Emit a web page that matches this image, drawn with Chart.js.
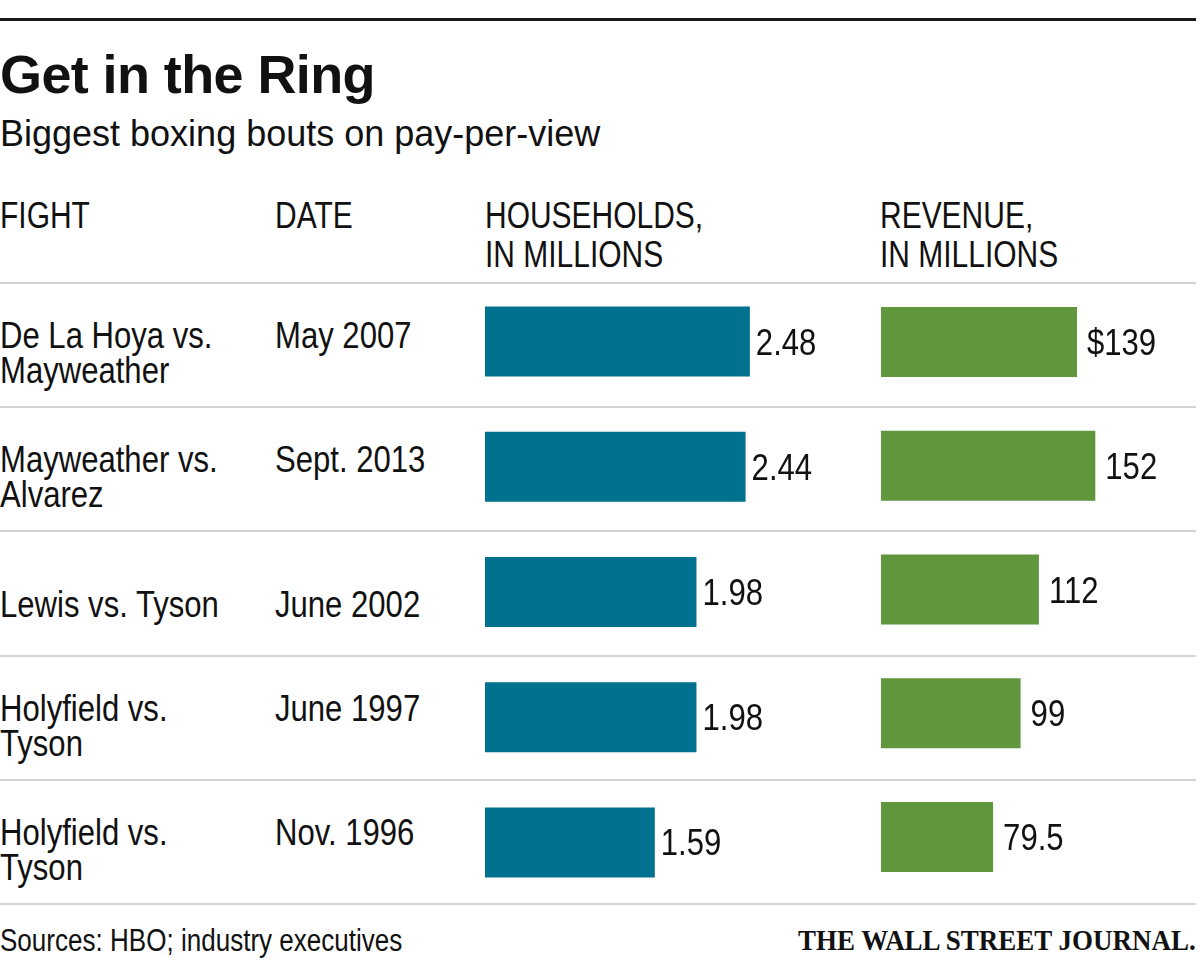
<!DOCTYPE html>
<html>
<head>
<meta charset="utf-8">
<script src="https://cdn.jsdelivr.net/npm/chart.js@4/dist/chart.umd.min.js"></script>
<style>
  html, body { margin: 0; padding: 0; background: #fff; }
  body { width: 1200px; height: 960px; position: relative; overflow: hidden; color: #111;
         font-family: "Liberation Sans", Arial, sans-serif; }
  .abs { position: absolute; white-space: nowrap; }
  .rule { position: absolute; left: 0; width: 1196px; }
  #title { left: 0; top: 47px; font-weight: bold; font-size: 54px; line-height: 54px; letter-spacing: -0.6px; }
  #subtitle { left: 0; top: 116px; font-size: 36px; line-height: 36px; }
  .hdr { font-size: 37px; line-height: 39px; top: 196px; transform: scaleX(0.81); transform-origin: left top; }
  .cell { font-size: 37px; line-height: 35px; transform: scaleX(0.84); transform-origin: left top; }
  #source { left: 0; top: 925px; font-size: 31px; line-height: 31px; transform: scaleX(0.84); transform-origin: left top; }
  #logo { right: 4px; top: 926px; font-family: "Liberation Serif", "Times New Roman", serif; font-weight: bold; font-size: 29px; line-height: 29px; transform: scaleX(0.93); transform-origin: right center; }
  canvas { position: absolute; }
</style>
</head>
<body>
<div class="rule" style="top:18px;height:3px;background:#1a1a1a;"></div>
<div id="title" class="abs">Get in the Ring</div>
<div id="subtitle" class="abs">Biggest boxing bouts on pay-per-view</div>
<div id="hdrs"></div>
<div id="rows"></div>
<canvas id="hh" width="390" height="626" style="left:485px;top:279px;width:390px;height:626px;"></canvas>
<canvas id="rev" width="315" height="619" style="left:881px;top:280px;width:315px;height:619px;"></canvas>
<div id="source" class="abs">Sources: HBO; industry executives</div>
<div id="logo" class="abs">THE WALL STREET JOURNAL.</div>
<script>
// ---- data ----
const fights = [["De La Hoya vs.", "Mayweather"], ["Mayweather vs.", "Alvarez"], ["Lewis vs. Tyson"], ["Holyfield vs.", "Tyson"], ["Holyfield vs.", "Tyson"]];
const dates = ["May 2007", "Sept. 2013", "June 2002", "June 1997", "Nov. 1996"];
const households = [2.48, 2.44, 1.98, 1.98, 1.59];
const householdLabels = ["2.48", "2.44", "1.98", "1.98", "1.59"];
const revenue = [139, 152, 112, 99, 79.5];
const revenueLabels = ["$139", "152", "112", "99", "79.5"];
const headers = [["FIGHT"], ["DATE"], ["HOUSEHOLDS,", "IN MILLIONS"], ["REVENUE,", "IN MILLIONS"]];

// ---- layout ----
const headerX = [0, 275, 485, 880];
const hdrs = document.getElementById('hdrs');
headers.forEach((h, i) => {
  const d = document.createElement('div');
  d.className = 'abs hdr';
  d.style.left = headerX[i] + 'px';
  d.innerHTML = h.join('<br>');
  hdrs.appendChild(d);
});

const tableTop = 283, rowH = 124.2;
const rules = document.getElementById('rows');
function rule(y) {
  const r = document.createElement('div');
  r.className = 'rule';
  r.style.top = (y - 1) + 'px';
  r.style.height = '2px';
  r.style.background = '#d4d4d4';
  rules.appendChild(r);
}
rule(tableTop);
fights.forEach((f, i) => {
  const rowTop = tableTop + rowH * i;
  rule(rowTop + rowH);
  const top = rowTop + (f.length === 2 ? 35 : 56);
  const a = document.createElement('div');
  a.className = 'abs cell';
  a.style.left = '0px'; a.style.top = top + 'px';
  a.innerHTML = f.join('<br>');
  rules.appendChild(a);
  const b = document.createElement('div');
  b.className = 'abs cell';
  b.style.left = '275px'; b.style.top = top + 'px';
  b.textContent = dates[i];
  rules.appendChild(b);
});

// ---- charts ----
const labelPlugin = {
  id: 'valueLabels',
  afterDatasetsDraw(chart, args, opts) {
    const ctx = chart.ctx;
    chart.getDatasetMeta(0).data.forEach((bar, i) => {
      ctx.save();
      ctx.font = '37px "Liberation Sans", Arial, sans-serif';
      ctx.fillStyle = '#111';
      ctx.textBaseline = 'alphabetic';
      ctx.textAlign = 'left';
      ctx.translate(bar.x + opts.gap, bar.y + 13);
      ctx.scale(0.84, 1);
      ctx.fillText(opts.labels[i], 0, 0);
      ctx.restore();
    });
  }
};

function makeChart(id, values, labels, color, max, gap, barPct) {
  return new Chart(document.getElementById(id), {
    type: 'bar',
    data: {
      labels: dates,
      datasets: [{ data: values, backgroundColor: color, borderWidth: 0,
                   categoryPercentage: 1, barPercentage: barPct }]
    },
    options: {
      indexAxis: 'y',
      responsive: false,
      animation: false,
      devicePixelRatio: 1,
      layout: { padding: 0 },
      plugins: { legend: { display: false }, tooltip: { enabled: false },
                 valueLabels: { labels: labels, gap: gap } },
      scales: {
        x: { display: false, min: 0, max: max },
        y: { display: false }
      }
    },
    plugins: [labelPlugin]
  });
}
makeChart('hh', households, householdLabels, '#00718f', 390 / 106.8, 6, 70 / 125.2);
makeChart('rev', revenue, revenueLabels, '#60963c', 315 / 1.41, 10, 70 / 123.8);
</script>
</body>
</html>
